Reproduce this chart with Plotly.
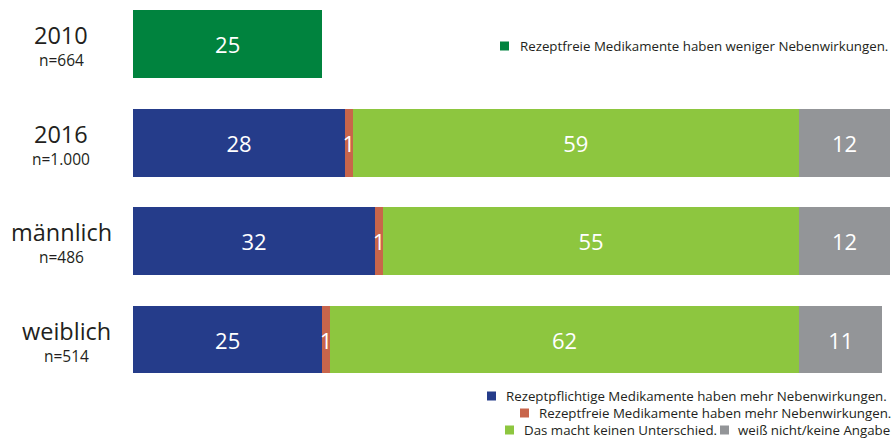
import plotly.graph_objects as go

# Survey groups (top to bottom) and sample sizes
groups = ["2010", "2016", "männlich", "weiblich"]
sample_sizes = ["n=664", "n=1.000", "n=486", "n=514"]

# Answer shares in percent per group (None = not asked)
weniger_nebenwirkungen = [25, None, None, None]
pflichtig_mehr = [None, 28, 32, 25]
frei_mehr = [None, 1, 1, 1]
kein_unterschied = [None, 59, 55, 62]
weiss_nicht = [None, 12, 12, 11]

series = [
    ("Rezeptfreie Medikamente haben weniger Nebenwirkungen.", weniger_nebenwirkungen, "#00833E"),
    ("Rezeptpflichtige Medikamente haben mehr Nebenwirkungen.", pflichtig_mehr, "#253C8A"),
    ("Rezeptfreie Medikamente haben mehr Nebenwirkungen.", frei_mehr, "#C8654B"),
    ("Das macht keinen Unterschied.", kein_unterschied, "#8DC63F"),
    ("weiß nicht/keine Angabe", weiss_nicht, "#939598"),
]

FONT = "Open Sans"
TEXT_COLOR = "#231F20"
W, H = 892, 438
ML, MR = 133, 2
PLOT_W = W - ML - MR

ypos = list(range(len(groups)))

fig = go.Figure()
for name, values, color in series:
    fig.add_trace(go.Bar(
        name=name,
        orientation="h",
        x=values,
        y=ypos,
        marker=dict(color=color, line=dict(width=0)),
        text=[("" if v is None else str(v)) for v in values],
        textposition="inside",
        insidetextanchor="middle",
        textangle=0,
        textfont=dict(family=FONT, size=22, color="white"),
        width=0.69,
        showlegend=False,
        hoverinfo="skip",
    ))


def px_x(px):
    return (px - ML) / PLOT_W


def px_y(py):
    return 1 - py / H


annotations = []
# Group names and sample sizes left of the bars
label_centers = [61, 61, 61.5, 66]
for i, (g, n) in enumerate(zip(groups, sample_sizes)):
    annotations.append(dict(
        x=px_x(label_centers[i]), xref="paper", y=i, yref="y", yshift=9,
        text=g, showarrow=False, xanchor="center", yanchor="middle",
        font=dict(family=FONT, size=23.5, color=TEXT_COLOR)))
    annotations.append(dict(
        x=px_x(label_centers[i]), xref="paper", y=i, yref="y", yshift=-16,
        text=n, showarrow=False, xanchor="center", yanchor="middle",
        font=dict(family=FONT, size=15.5, color=TEXT_COLOR)))

# Legend entries: (swatch left x, text left x, center y)
legend_layout = [
    (500, 518, 46),
    (487, 504, 396),
    (520, 537, 413),
    (505, 522, 430),
    (720, 736, 430),
]
shapes = []
for (name, _, color), (sx, tx, cy) in zip(series, legend_layout):
    shapes.append(dict(
        type="rect", xref="paper", yref="paper",
        x0=px_x(sx), x1=px_x(sx + 9), y0=px_y(cy + 4.5), y1=px_y(cy - 4.5),
        fillcolor=color, line=dict(width=0)))
    annotations.append(dict(
        x=px_x(tx), xref="paper", y=px_y(cy), yref="paper",
        text=name, showarrow=False, xanchor="left", yanchor="middle",
        font=dict(family=FONT, size=13.3, color=TEXT_COLOR)))

fig.update_layout(
    barmode="stack",
    width=W, height=H,
    margin=dict(l=ML, r=MR, t=0, b=0, pad=0),
    paper_bgcolor="white",
    plot_bgcolor="white",
    xaxis=dict(range=[0, 100], visible=False, fixedrange=True),
    yaxis=dict(range=[4.0, -0.447], visible=False, fixedrange=True),
    uniformtext=dict(minsize=22, mode="show"),
    annotations=annotations,
    shapes=shapes,
    font=dict(family=FONT, color=TEXT_COLOR),
)

fig.write_html("out.html")
